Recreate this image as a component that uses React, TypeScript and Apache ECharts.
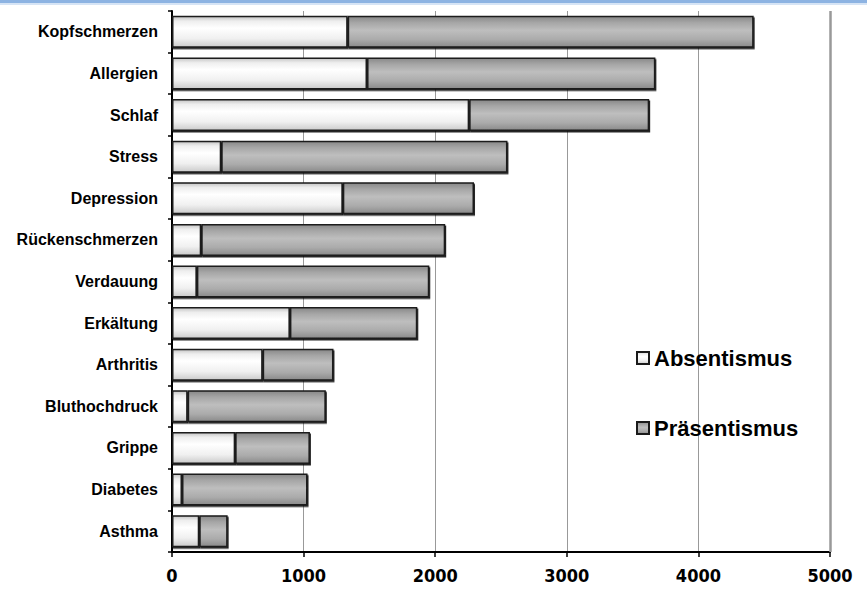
import React, { useEffect, useRef } from "react";
import * as echarts from "echarts";

const categories = [
  "Kopfschmerzen",
  "Allergien",
  "Schlaf",
  "Stress",
  "Depression",
  "Rückenschmerzen",
  "Verdauung",
  "Erkältung",
  "Arthritis",
  "Bluthochdruck",
  "Grippe",
  "Diabetes",
  "Asthma",
];
const absentismus = [1335, 1482, 2258, 374, 1298, 222, 189, 896, 689, 119, 480, 76, 207];
const praesentismus = [3085, 2191, 1368, 2175, 997, 1854, 1766, 968, 538, 1050, 568, 954, 216];
const xTicks = [0, 1000, 2000, 3000, 4000, 5000];

export default function App() {
  const ref = useRef<HTMLDivElement>(null);
  useEffect(() => {
    document.body.style.margin = "0";
    const chart = echarts.init(ref.current!, null, { renderer: "svg" });
    const whiteGrad = new echarts.graphic.LinearGradient(0, 0, 0, 1, [
      { offset: 0, color: "#c4c4c4" },
      { offset: 0.15, color: "#eeeeee" },
      { offset: 0.38, color: "#ffffff" },
      { offset: 0.72, color: "#f0f0f0" },
      { offset: 1, color: "#cbcbcb" },
    ]);
    const greyGrad = new echarts.graphic.LinearGradient(0, 0, 0, 1, [
      { offset: 0, color: "#888888" },
      { offset: 0.2, color: "#a6a6a6" },
      { offset: 0.45, color: "#bebebe" },
      { offset: 0.75, color: "#ababab" },
      { offset: 1, color: "#8a8a8a" },
    ]);
    const barStyle = {
      borderColor: "#1a1a1a",
      borderWidth: 1.5,
      shadowColor: "rgba(0,0,0,0.85)",
      shadowOffsetX: 1,
      shadowOffsetY: 1.5,
      shadowBlur: 0,
    };
    chart.setOption({
      animation: false,
      backgroundColor: "#ffffff",
      graphic: [
        { type: "rect", left: 0, top: 0, shape: { width: 867, height: 3 }, style: { fill: "#8db3e2" } },
        { type: "rect", left: 0, top: 3, shape: { width: 867, height: 2 }, style: { fill: "#d6e4f5" } },
      ],
      grid: { left: 172, right: 37, top: 11, bottom: 40, containLabel: false },
      legend: {
        orient: "vertical",
        left: 631,
        top: 342,
        itemWidth: 12,
        itemHeight: 12,
        itemGap: 48,
        icon: "rect",
        textStyle: {
          fontFamily: "Liberation Sans, Arial, sans-serif",
          fontWeight: "bold",
          fontSize: 22,
          color: "#000",
        },
        data: ["Absentismus", "Präsentismus"],
      },
      xAxis: {
        type: "value",
        min: xTicks[0],
        max: xTicks[xTicks.length - 1],
        interval: 1000,
        axisLine: { show: true, lineStyle: { color: "#000", width: 2 } },
        axisTick: { show: true, length: 5, lineStyle: { color: "#000", width: 1.5 } },
        axisLabel: {
          margin: 14,
          fontFamily: "DejaVu Sans Condensed, DejaVu Sans, sans-serif",
          fontWeight: "bold",
          fontSize: 18,
          color: "#000",
          formatter: (v: number) => String(v),
        },
        splitLine: { show: true, lineStyle: { color: "#999999", width: 1 } },
      },
      yAxis: {
        type: "category",
        data: categories,
        inverse: true,
        axisLine: { show: true, lineStyle: { color: "#000", width: 2 } },
        axisTick: { show: true, length: 4, lineStyle: { color: "#000", width: 1.5 } },
        axisLabel: {
          margin: 14,
          fontFamily: "Liberation Sans, Arial, sans-serif",
          fontWeight: "bold",
          fontSize: 16,
          color: "#000",
        },
      },
      series: [
        {
          name: "Absentismus",
          type: "bar",
          stack: "total",
          barWidth: 32,
          data: absentismus,
          itemStyle: { color: whiteGrad, ...barStyle },
          markLine: {
            silent: true,
            symbol: "none",
            label: { show: false },
            lineStyle: { color: "#999999", width: 2.5, type: "solid" },
            data: [{ xAxis: xTicks[xTicks.length - 1] }],
          },
        },
        {
          name: "Präsentismus",
          type: "bar",
          stack: "total",
          barWidth: 32,
          data: praesentismus,
          itemStyle: { color: greyGrad, ...barStyle },
        },
      ],
    });
    return () => chart.dispose();
  }, []);
  return (
    <div
      ref={ref}
      style={{ position: "absolute", left: 0, top: 0, width: 867, height: 592 }}
    />
  );
}
